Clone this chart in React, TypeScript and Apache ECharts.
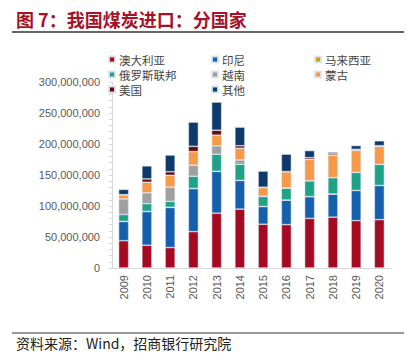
import React, { useEffect, useRef } from "react";
import * as echarts from "echarts";

const years = ["2009", "2010", "2011", "2012", "2013", "2014", "2015", "2016", "2017", "2018", "2019", "2020"];
// values in millions of tons
const australia = [44, 36.7, 33, 58.7, 88.4, 95, 70.6, 70, 80, 82, 76.5, 78];
const indonesia = [31, 54.3, 64.7, 69.3, 67.4, 46.2, 28.5, 39.4, 35, 37.2, 48.5, 55];
const malaysia = [0.3, 0.3, 0.3, 0.3, 0.2, 0.2, 0.2, 0.2, 0.2, 0.2, 0.1, 0.1];
const russia = [11, 12.5, 9.5, 19.7, 27.5, 25.8, 16, 19, 25.4, 26.3, 29, 34];
const vietnam = [25, 17.5, 23, 17.8, 13.5, 7, 0.5, 0.5, 0.3, 0.1, 0.1, 0.1];
const mongolia = [6.5, 17, 19, 22, 17.2, 19, 14, 26, 34.4, 36.1, 35.6, 29];
const usa = [0.5, 5.4, 5.7, 8.5, 8, 4, 0.5, 0.5, 2.7, 2.2, 1.7, 1];
const others = [8.5, 21, 27, 39, 45.4, 30, 26, 28, 11.4, 2.7, 6, 8];

const seriesNames = ["澳大利亚", "印尼", "马来西亚", "俄罗斯联邦", "越南", "蒙古", "美国", "其他"];
const seriesData = [australia, indonesia, malaysia, russia, vietnam, mongolia, usa, others];
const seriesColors = ["#A50A22", "#1560AE", "#C9A21C", "#1FA386", "#A0A0A0", "#F79A48", "#6A0A14", "#0D3A6B"];

const legendCols = [
  ["澳大利亚", "俄罗斯联邦", "美国"],
  ["印尼", "越南", "其他"],
  ["马来西亚", "蒙古"],
];
const legendLefts = [108, 211, 314];

export default function App() {
  const ref = useRef<HTMLDivElement>(null);
  useEffect(() => {
    document.body.style.margin = "0";
    if (!ref.current) return;
    const chart = echarts.init(ref.current, undefined, { renderer: "svg" });
    const font = "'Noto Sans CJK SC', 'Noto Sans', sans-serif";
    chart.setOption({
      animation: false,
      color: seriesColors,
      grid: { left: 112, right: 27, top: 82, bottom: 95, containLabel: false },
      legend: legendCols.map((col, i) => ({
        orient: "vertical",
        left: legendLefts[i],
        top: 52,
        padding: 0,
        data: col,
        itemWidth: 6,
        itemHeight: 6,
        itemGap: 0,
        icon: "rect",
        textStyle: { fontSize: 11.5, lineHeight: 15, color: "#444", fontFamily: font, padding: [0, 0, 0, -1] },
      })),
      xAxis: {
        type: "category",
        data: years,
        axisLine: { show: true, lineStyle: { color: "#d9d9d9", width: 1 } },
        axisTick: { show: false },
        axisLabel: {
          rotate: 90,
          fontSize: 11,
          color: "#595959",
          fontFamily: "'Liberation Sans', Arial, sans-serif",
          margin: 7,
        },
      },
      yAxis: {
        type: "value",
        min: 0,
        max: 300000000,
        interval: 50000000,
        splitLine: { show: false },
        axisLine: { show: true, lineStyle: { color: "#d9d9d9" } },
        axisTick: { show: true, length: 3, lineStyle: { color: "#d9d9d9" } },
        minorTick: { show: true, splitNumber: 5, length: 3, lineStyle: { color: "#d9d9d9" } },
        axisLabel: {
          fontSize: 11,
          color: "#595959",
          fontFamily: "'Liberation Sans', Arial, sans-serif",
          margin: 12,
          formatter: (v: number) => v.toLocaleString("en-US"),
        },
      },
      series: seriesNames.map((name, i) => ({
        name,
        type: "bar",
        stack: "total",
        barWidth: 10,
        data: seriesData[i].map((v) => v * 1000000),
        itemStyle: { color: seriesColors[i], borderColor: "rgba(220,228,238,0.9)", borderWidth: 0.6 },
      })),
      graphic: [
        {
          type: "text",
          left: 16,
          top: 10,
          style: {
            text: "图 7：我国煤炭进口：分国家",
            fontSize: 18,
            fontWeight: "bold",
            fill: "#A5122A",
            fontFamily: font,
          },
        },
        {
          type: "line",
          shape: { x1: 12, y1: 32, x2: 404, y2: 32 },
          style: { stroke: "#333", lineWidth: 1.5 },
        },
        {
          type: "line",
          shape: { x1: 12, y1: 333, x2: 404, y2: 333 },
          style: { stroke: "#333", lineWidth: 1 },
        },
        {
          type: "text",
          left: 16,
          top: 336,
          style: {
            text: "资料来源：Wind，招商银行研究院",
            fontSize: 14,
            fill: "#222",
            fontFamily: font,
          },
        },
      ],
    });
    return () => chart.dispose();
  }, []);
  return <div ref={ref} style={{ width: 418, height: 363 }} />;
}
